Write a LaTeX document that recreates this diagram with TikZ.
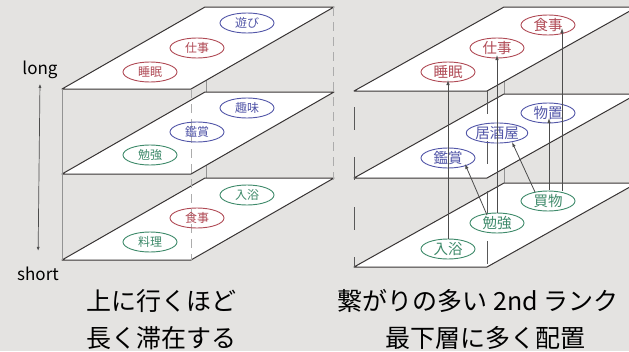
\documentclass[tikz,border=0pt]{standalone}
\usepackage{fontspec}
\setmainfont{Noto Sans CJK JP}
\usetikzlibrary{positioning, shapes.geometric, arrows.meta, calc}
\definecolor{bgrey}{HTML}{E4E3E1}
\definecolor{actred}{HTML}{B04A55}
\definecolor{actblue}{HTML}{5256A8}
\definecolor{actgreen}{HTML}{3E8A6A}
\definecolor{edge}{HTML}{383434}
\tikzstyle{act} = [ellipse, draw, line width=0.9pt, minimum width=54pt,
                 minimum height=20pt, inner sep=0pt]
\tikzset{
	plane/.style={draw=edge, fill=white, line width=1pt, line join=round},
	post/.style={draw=gray!85, line width=0.7pt},
	hidden/.style={draw=gray!65, line width=0.8pt, dash pattern=on 9pt off 6pt},
	longdash/.style={draw=black!65, line width=0.8pt, dash pattern=on 23pt off 27pt},
	link/.style={draw=black!70, line width=0.8pt, -{Latex[length=5pt,width=3.5pt]}},
	small/.style={font=\fontsize{12}{12}\selectfont},
	big/.style={font=\fontsize{14.5}{14.5}\selectfont},
	caption/.style={anchor=base, font=\fontsize{25}{25}\selectfont},
}

\begin{document}
\begin{tikzpicture}[x=1pt, y=-1pt]
\useasboundingbox[fill=bgrey] (0,0) rectangle (629,351);

%left stack
\draw[post] (206,7) -- (206,180);
\foreach \y in {260, 174, 89}
	\draw[plane] (62,\y) -- (191,\y) -- (334,{\y-82}) -- (205,{\y-82}) -- cycle;
\draw[post] (62,89) -- (62,260);
\draw[hidden] (191,89) -- (191,260);
\draw[hidden] (333,7) -- (333,180);

\foreach \x/\y/\c/\name/\label in {247/23/actblue/asobi/遊び, 197/48/actred/shigoto/仕事,
	150/72/actred/suimin/睡眠, 247/108/actblue/shumi/趣味, 197/132/actblue/kansho/鑑賞,
	150/155/actgreen/benkyo/勉強, 247/195/actgreen/nyuyoku/入浴, 197/218/actred/shokuji/食事,
	150/242/actgreen/ryori/料理}
	\node [act, small, draw=\c, text=\c] at (\x,\y) (L-\name) {\label};

%scale
\node [anchor=base, font=\fontsize{17}{17}\selectfont] at (40,74) (long) {long};
\node [anchor=base, font=\fontsize{17}{17}\selectfont] at (38,280) (short) {short};
\draw[draw=black!70, line width=0.7pt, {Latex[length=4pt,width=3pt]}-{Latex[length=4pt,width=3pt]},
	shorten <=2pt, shorten >=12pt] (long.south) -- (short.north);

%right stack
\draw[post] (504,7) -- (504,183);
\foreach \y in {267, 178, 91}
	\draw[plane] (354,\y) -- (487,\y) -- (637,{\y-84}) -- (504,{\y-84}) -- cycle;
\draw[longdash] (354,107) -- (354,267);
\draw[longdash] (487,91) -- (487,267);

\foreach \x/\y/\c/\name/\label in {548/25/actred/shokuji/食事, 497/48/actred/shigoto/仕事,
	448/72/actred/suimin/睡眠, 548/113/actblue/monooki/物置, 497/133/actblue/izakaya/居酒屋,
	448/158/actblue/kansho/鑑賞, 548/201/actgreen/kaimono/買物, 497/223/actgreen/benkyo/勉強,
	448/249/actgreen/nyuyoku/入浴}
	\node [act, big, draw=\c, text=\c] at (\x,\y) (R-\name) {\label};

\foreach \a/\ax/\ay/\b/\bx/\by in {R-nyuyoku/0/-10/R-suimin/0/8, R-benkyo/0/-10/R-shigoto/0/7,
	R-benkyo/-10/-8/R-kansho/17/6, R-kaimono/-13/-9/R-izakaya/15/9,
	R-kaimono/1/-11/R-monooki/1/5, R-kaimono/14/-10/R-shokuji/14/3}
	\draw[link] ($(\a)+(\ax,\ay)$) -- ($(\b)+(\bx,\by)$);

%captions
\node [caption] at (161,310) (capL1) {上に行くほど};
\node [caption] at (161,347) (capL2) {長く滞在する};
\node [caption] at (478,310) (capR1) {繋がりの多い 2nd ランク};
\node [caption] at (485,347) (capR2) {最下層に多く配置};
\end{tikzpicture}
\end{document}
